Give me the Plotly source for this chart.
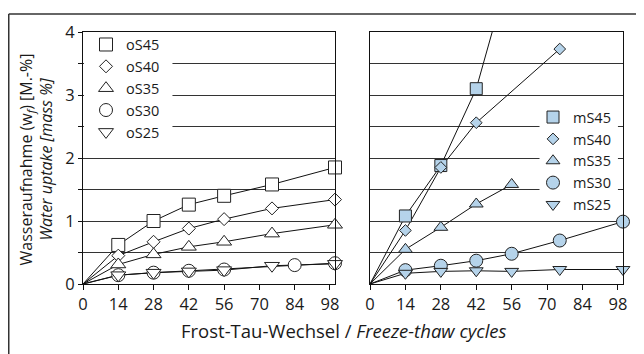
import plotly.graph_objects as go

# ---------------- data ----------------
x_ticks = [0, 14, 28, 42, 56, 70, 84, 98]
y_ticks = [0, 0.5, 1, 1.5, 2, 2.5, 3, 3.5, 4]
y_tick_labels = ["0", "", "1", "", "2", "", "3", "", "4"]

# left panel (oS)
oS45_x = [0, 14, 28, 42, 56, 75, 100]
oS45_y = [0, 0.62, 1.00, 1.26, 1.40, 1.58, 1.85]
oS40_x = [0, 14, 28, 42, 56, 75, 100]
oS40_y = [0, 0.45, 0.67, 0.88, 1.03, 1.20, 1.34]
oS35_x = [0, 14, 28, 42, 56, 75, 100]
oS35_y = [0, 0.31, 0.47, 0.59, 0.67, 0.80, 0.94]
oS30_x = [0, 14, 28, 42, 56, 84, 100]
oS30_y = [0, 0.14, 0.18, 0.21, 0.23, 0.30, 0.33]
oS25_x = [0, 14, 28, 42, 56, 75, 100]
oS25_y = [0, 0.14, 0.18, 0.20, 0.22, 0.29, 0.32]

# right panel (mS)
mS45_x = [0, 14, 28, 42, 56]
mS45_y = [0, 1.08, 1.88, 3.10, 5.10]
mS40_x = [0, 14, 28, 42, 75]
mS40_y = [0, 0.85, 1.85, 2.56, 3.73]
mS35_x = [0, 14, 28, 42, 56]
mS35_y = [0, 0.55, 0.90, 1.27, 1.58]
mS30_x = [0, 14, 28, 42, 56, 75, 100]
mS30_y = [0, 0.22, 0.29, 0.37, 0.48, 0.69, 0.99]
mS25_x = [0, 14, 28, 42, 56, 75, 100]
mS25_y = [0, 0.17, 0.20, 0.21, 0.20, 0.23, 0.23]

left_series = [("oS45", oS45_x, oS45_y, "square", 13),
               ("oS40", oS40_x, oS40_y, "diamond", 10),
               ("oS35", oS35_x, oS35_y, "triangle-up", 13),
               ("oS30", oS30_x, oS30_y, "circle", 13),
               ("oS25", oS25_x, oS25_y, "triangle-down", 13)]
right_series = [("mS45", mS45_x, mS45_y, "square", 12),
                ("mS40", mS40_x, mS40_y, "diamond", 9),
                ("mS35", mS35_x, mS35_y, "triangle-up", 12),
                ("mS30", mS30_x, mS30_y, "circle", 13),
                ("mS25", mS25_x, mS25_y, "triangle-down", 12)]

FONT = "Open Sans"
TXT = "#1a1a1a"
OFF = 8  # page body margin
W, H = 644 - OFF, 354 - OFF
L, R, T, B = 83 - OFF, 644 - 623, 27 - OFF, 354 - 284
PW, PH = W - L - R, H - T - B


def px2x(px):  # px in reference (page) coordinates
    return (px - OFF - L) / PW


def px2y(py):
    return (H - B - (py - OFF)) / PH


fig = go.Figure()


def add_panel(series, xa, ya, legend, fill):
    for name, xs, ys, sym, sz in series:
        fig.add_trace(go.Scatter(x=xs, y=ys, mode="lines", xaxis=xa, yaxis=ya,
                                 line=dict(color="#111", width=1), showlegend=False,
                                 hoverinfo="skip"))
    for name, xs, ys, sym, sz in series:
        fig.add_trace(go.Scatter(x=xs[1:], y=ys[1:], mode="markers", xaxis=xa, yaxis=ya,
                                 name=name, legend=legend, cliponaxis=False,
                                 marker=dict(symbol=sym, size=sz, color=fill,
                                             line=dict(color="#222", width=1))))


add_panel(left_series, "x", "y", "legend", "white")
add_panel(right_series, "x2", "y2", "legend2", "#b5d3ea")

axis_common = dict(showline=True, linecolor="#111", linewidth=1, mirror=True,
                   zeroline=False)
TICKF = 16.5
LEGF = 14.5
fig.update_layout(
    width=W, height=H,
    margin=dict(l=L, r=R, t=T, b=B),
    paper_bgcolor="white", plot_bgcolor="white",
    font=dict(family=FONT, size=15, color=TXT),
    xaxis=dict(domain=[0, px2x(335)], range=[0, 100], tickvals=x_ticks,
               ticks="outside", ticklen=5, tickcolor="#111", showgrid=False,
               tickfont=dict(size=TICKF), **axis_common),
    xaxis2=dict(domain=[px2x(370), 1], range=[0, 100], tickvals=x_ticks, anchor="y2",
                ticks="outside", ticklen=5, tickcolor="#111", showgrid=False,
                tickfont=dict(size=TICKF), **axis_common),
    yaxis=dict(range=[0, 4], tickvals=y_ticks, ticktext=y_tick_labels,
               ticks="outside", ticklen=4, tickcolor="#111",
               showgrid=True, gridcolor="#333", gridwidth=1,
               tickfont=dict(size=TICKF), **axis_common),
    yaxis2=dict(range=[0, 4], tickvals=y_ticks, showticklabels=False, anchor="x2",
                ticks="", showgrid=True, gridcolor="#333", gridwidth=1,
                **axis_common),
    legend=dict(x=px2x(86), y=px2y(23.5), xanchor="left", yanchor="top",
                bgcolor="rgba(0,0,0,0)", borderwidth=0, font=dict(size=LEGF),
                itemsizing="trace", tracegroupgap=0),
    legend2=dict(x=px2x(533), y=px2y(97.5), xanchor="left", yanchor="top",
                 bgcolor="rgba(0,0,0,0)", borderwidth=0, font=dict(size=LEGF),
                 itemsizing="trace", tracegroupgap=0),
    showlegend=True,
)

# white backgrounds behind the legends (hide grid lines, not data)
fig.add_shape(type="rect", xref="x", yref="y", x0=0.4, x1=35.5, y0=2.3, y1=3.9,
              fillcolor="white", line=dict(width=0), layer="between")
fig.add_shape(type="rect", xref="x2", yref="y2", x0=67, x1=98, y0=1.2, y1=2.8,
              fillcolor="white", line=dict(width=0), layer="between")

fig.add_annotation(text="Wasseraufnahme (w<sub><i>f</i></sub>) [M.-%]<br><i>Water uptake [mass %]</i>",
                   xref="paper", yref="paper", x=px2x(36), y=px2y(157),
                   textangle=-90, showarrow=False, font=dict(size=16, color=TXT),
                   xanchor="center", yanchor="middle")
fig.add_annotation(text="Frost-Tau-Wechsel / <i>Freeze-thaw cycles</i>",
                   xref="paper", yref="paper", x=px2x(344), y=px2y(331),
                   showarrow=False, font=dict(size=18.5, color=TXT),
                   xanchor="center", yanchor="middle")

# outer frame (top and left edges)
fig.add_shape(type="line", xref="paper", yref="paper", x0=px2x(8.75), x1=px2x(660),
              y0=px2y(8.75), y1=px2y(8.75), line=dict(color="#333", width=1.5))
fig.add_shape(type="line", xref="paper", yref="paper", x0=px2x(8.75), x1=px2x(8.75),
              y0=px2y(8.75), y1=px2y(370), line=dict(color="#333", width=1.5))

fig.write_html("out.html")
